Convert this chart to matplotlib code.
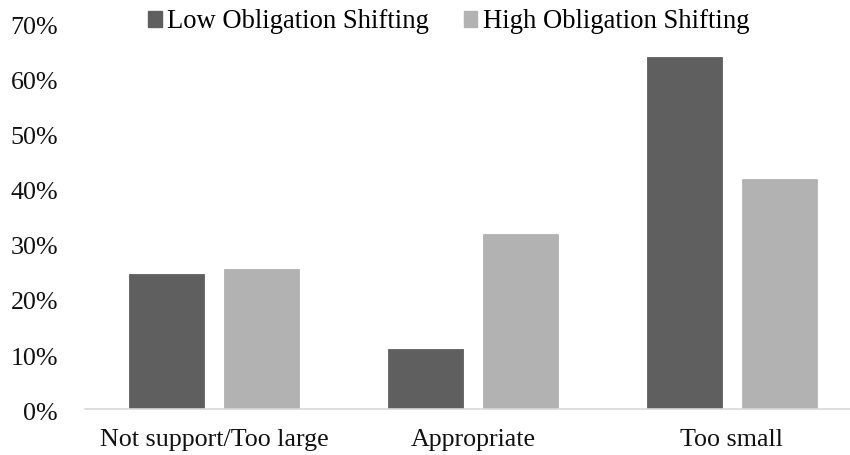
import matplotlib
matplotlib.use("Agg")
import matplotlib.pyplot as plt
import matplotlib.transforms as mtransforms
import numpy as np
from matplotlib.ticker import PercentFormatter
from matplotlib.patches import Patch

categories = ["Not support/Too large", "Appropriate", "Too small"]
series_names = ["Low Obligation Shifting", "High Obligation Shifting"]
low_values = [24.5, 10.9, 63.8]
high_values = [25.4, 31.8, 41.8]
y_ticks = [0, 10, 20, 30, 40, 50, 60, 70]

dark = "#5f5f5f"
light = "#b2b2b2"

plt.rcParams["font.family"] = ["Liberation Serif", "DejaVu Serif"]
fs = 18.7

W, H = 850, 455
fig = plt.figure(figsize=(W / 100, H / 100), dpi=100)
ax = fig.add_axes([84.5 / W, (H - 409.3) / H, 777 / W, (409.3 - 23) / H])

x = np.arange(len(categories))
bw = 0.29
off = 0.183
ax.bar(x - off, low_values, width=bw, color=dark, edgecolor=dark, linewidth=0.6)
ax.bar(x + off, high_values, width=bw, color=light, edgecolor=light, linewidth=0.6)

ax.set_xlim(-0.5, len(categories) - 0.5)
ax.set_ylim(0, 70)
ax.set_yticks(y_ticks)
ax.yaxis.set_major_formatter(PercentFormatter(xmax=100, decimals=0))
ax.set_xticks(x)
ax.set_xticklabels(categories)

for s in ["top", "right", "left"]:
    ax.spines[s].set_visible(False)
ax.spines["bottom"].set_color("#d9d9d9")
ax.spines["bottom"].set_linewidth(1.2)

ax.tick_params(axis="y", length=0, pad=19, labelsize=fs, labelcolor="#111111")
ax.tick_params(axis="x", length=0, pad=14, labelsize=fs, labelcolor="#111111")

# nudge the percentage labels slightly below their tick positions
shift = mtransforms.ScaledTranslation(0, -2 / 100, fig.dpi_scale_trans)
for lbl in ax.get_yticklabels():
    lbl.set_transform(lbl.get_transform() + shift)

handles = [Patch(facecolor=dark, edgecolor=dark), Patch(facecolor=light, edgecolor=light)]
fig.legend(handles, series_names, loc="center", bbox_to_anchor=(449 / W, 1 - 22 / H),
           ncol=2, frameon=False, fontsize=19.2, handlelength=0.5, handleheight=0.5,
           handletextpad=0.22, columnspacing=1.3, borderpad=0, borderaxespad=0)

fig.savefig("out.png", dpi=100)
